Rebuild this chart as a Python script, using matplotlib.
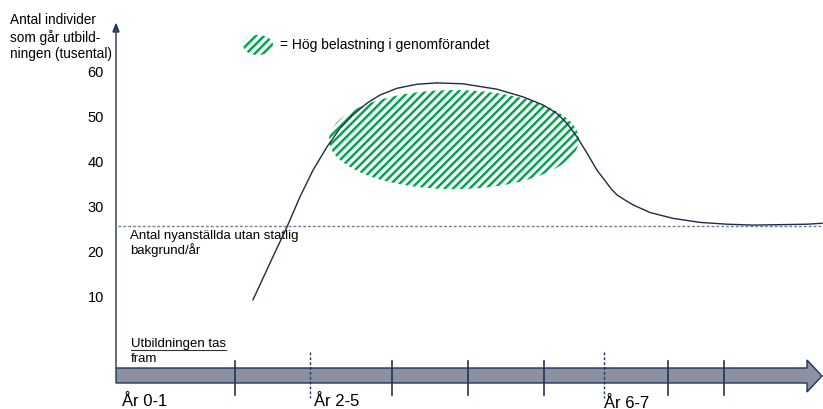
import matplotlib

matplotlib.use("Agg")
import matplotlib.pyplot as plt
from matplotlib.patches import Ellipse, Polygon


# Curve: horizontal position on the time line, value in thousands
curve_x = [253, 273, 287, 300, 313, 327, 340, 353, 367, 380, 397, 417,
           437, 463, 497, 523, 543, 557, 567, 577, 587, 597, 607, 611,
           617, 624, 633, 641, 650, 673, 700, 727, 753, 780, 807, 822]
curve_y = [9.6, 19.2, 25.8, 32.5, 38.4, 43.6, 47.7, 50.7, 53.3, 55.1,
           56.6, 57.5, 57.8, 57.6, 56.4, 54.7, 52.9, 51.0, 48.8, 45.8,
           42.2, 38.4, 35.5, 34.3, 32.9, 31.9, 30.7, 29.9, 29.0, 27.7,
           26.8, 26.4, 26.2, 26.3, 26.4, 26.6]

baseline_level = 26.1          # nyanställda utan statlig bakgrund
y_ticks = [60, 50, 40, 30, 20, 10]

# High-load region (centre, width, height)
load_center = (454, 45.2)
load_width = 250
load_height = 22.0

# Time line
solid_ticks = [235, 392, 468, 544, 668, 724]
dashed_ticks = [310, 604]
period_labels = ["År 0-1", "År 2-5", "År 6-7"]
period_x = [122, 314, 604]

W, H = 823, 409
PX_PER_UNIT = 4.5
Y60_PX = 73


def px_to_val(py):
    return 60 - (py - Y60_PX) / PX_PER_UNIT


plt.rcParams["font.family"] = ["Liberation Sans", "DejaVu Sans"]
plt.rcParams["hatch.linewidth"] = 1.8

fig = plt.figure(figsize=(W / 100, H / 100), dpi=100)

# decoration layer in pixel coordinates
deco = fig.add_axes([0, 0, 1, 1])
deco.set_xlim(0, W)
deco.set_ylim(H, 0)
deco.axis("off")

# data layer
ax = fig.add_axes([0, 0, 1, 1], facecolor="none")
ax.set_xlim(0, W)
ax.set_ylim(px_to_val(H), px_to_val(0))
ax.axis("off")

green = "#00a651"
navy = "#22345a"

# vertical axis with arrow
deco.plot([116, 116], [368, 30], color="#44546a", lw=1.2)
deco.add_patch(Polygon([[113, 32], [119, 32], [116, 24]], closed=True,
                       color="#22345a"))

# time line arrow
arrow = Polygon([[116, 368], [807, 368], [807, 360], [822, 376],
                 [807, 392], [807, 383], [116, 383]],
                closed=True, facecolor="#8c91a2", edgecolor=navy, lw=1)
deco.add_patch(arrow)
for tx in solid_ticks:
    deco.plot([tx, tx], [361, 395], color=navy, lw=1.2)
for tx in dashed_ticks:
    deco.plot([tx, tx], [352, 398], color=navy, lw=1, ls=(0, (2, 1.5)))

for label, lx in zip(period_labels, period_x):
    dy = 403 if label == "År 6-7" else 401.5
    deco.text(lx, dy, label, fontsize=12, ha="left", va="center")

deco.text(131, 347, "Utbildningen tas", fontsize=9.5, ha="left",
          va="baseline")
deco.plot([131, 226], [349.5, 349.5], color="#333333", lw=0.8)
deco.text(131, 362, "fram", fontsize=9.5, ha="left", va="baseline")

# y label
deco.text(10, 13, "Antal individer\nsom går utbild-\nningen (tusental)",
          fontsize=9.8, ha="left", va="top", linespacing=1.22)

# legend
deco.add_patch(Ellipse((258, 45), 30, 20, facecolor="none",
                       edgecolor=green, hatch="////", lw=0))
deco.text(280, 45, "= Hög belastning i genomförandet", fontsize=10,
          ha="left", va="center")

# y tick labels
for v in y_ticks:
    ax.text(104, v, str(v), fontsize=10.5, ha="right", va="center")

# baseline
ax.plot([118, 822], [baseline_level, baseline_level], color="#6f7c98",
        lw=1, ls=(0, (2, 1.5)))
deco.text(130, 243.5, "Antal nyanställda utan statlig\nbakgrund/år",
          fontsize=9.5, ha="left", va="center", linespacing=1.15)

# high-load ellipse
ax.add_patch(Ellipse(load_center, load_width, load_height,
                     facecolor="none", edgecolor=green, hatch="////", lw=0))

# curve
ax.plot(curve_x, curve_y, color="#1f2a44", lw=1)

fig.savefig("out.png", dpi=100)
